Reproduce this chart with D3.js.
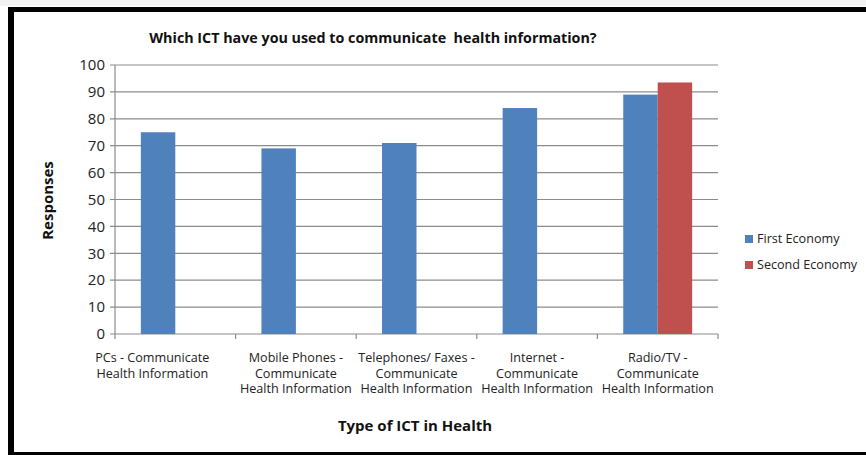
<!DOCTYPE html>
<html>
<head>
<meta charset="utf-8">
<script src="https://cdn.jsdelivr.net/npm/d3@7"></script>
<style>
  body { margin: 0; background: #fff; }
  svg { display: block; font-family: "Open Sans", "DejaVu Sans", sans-serif; }
</style>
</head>
<body>
<svg id="chart" width="866" height="455"></svg>
<script>
const categories = [
    ["PCs - Communicate", "Health Information"],
    ["Mobile Phones -", "Communicate", "Health Information"],
    ["Telephones/ Faxes -", "Communicate", "Health Information"],
    ["Internet -", "Communicate", "Health Information"],
    ["Radio/TV -", "Communicate", "Health Information"],
];
const firstEconomy = [75, 69, 71, 84, 89];
const secondEconomy = [null, null, null, null, 93.5];
const seriesNames = ["First Economy", "Second Economy"];
const seriesColors = ["#4f81bd", "#c0504d"];
const yTicks = [0, 10, 20, 30, 40, 50, 60, 70, 80, 90, 100];

const svg = d3.select("svg");
const width = 866;
const height = 455;
const margin = { top: 65, right: 148, bottom: 121, left: 115 };

// frame like the screenshot
svg.append("rect").attr("x", 0).attr("y", 0).attr("width", width).attr("height", height).attr("fill", "#fff");
svg.append("rect").attr("x", 0).attr("y", 0).attr("width", width).attr("height", 6).attr("fill", "#f2f2f2");
svg.append("rect").attr("x", 8).attr("y", 7).attr("width", width - 8).attr("height", 5).attr("fill", "#000");
svg.append("rect").attr("x", 8).attr("y", 7).attr("width", 6).attr("height", height - 7).attr("fill", "#000");
svg.append("rect").attr("x", 8).attr("y", 452).attr("width", width - 8).attr("height", 3).attr("fill", "#000");

const x = d3
    .scaleBand()
    .domain(d3.range(categories.length))
    .range([margin.left, width - margin.right])
    .paddingInner(0)
    .paddingOuter(0);

const y = d3.scaleLinear().domain([0, 100]).range([height - margin.bottom, margin.top]);

// bars sit in the middle of each category, gap 150% like excel
const groupW = x.bandwidth() * 2 / 3.5;
const xs = d3.scaleBand().domain([0, 1]).range([0, groupW]);

const g = svg.append("g");

// gridlines
g.selectAll("line.grid")
    .data(yTicks)
    .enter()
    .append("line")
    .attr("class", "grid")
    .attr("x1", margin.left - 5)
    .attr("x2", width - margin.right)
    .attr("y1", (d) => y(d))
    .attr("y2", (d) => y(d))
    .attr("stroke", "#8c8c8c")
    .attr("stroke-width", 1.2);

// y axis line
g.append("line")
    .attr("x1", margin.left)
    .attr("x2", margin.left)
    .attr("y1", y(100))
    .attr("y2", y(0))
    .attr("stroke", "#8c8c8c")
    .attr("stroke-width", 1.2);

// category tick marks
g.selectAll("line.ctick")
    .data(d3.range(categories.length + 1))
    .enter()
    .append("line")
    .attr("class", "ctick")
    .attr("x1", (d) => margin.left + d * x.step())
    .attr("x2", (d) => margin.left + d * x.step())
    .attr("y1", y(0))
    .attr("y2", y(0) + 5)
    .attr("stroke", "#8c8c8c")
    .attr("stroke-width", 1.2);

// y tick labels
g.selectAll("text.ytick")
    .data(yTicks)
    .enter()
    .append("text")
    .attr("class", "ytick")
    .attr("x", margin.left - 10)
    .attr("y", (d) => y(d))
    .attr("dy", "0.35em")
    .attr("text-anchor", "end")
    .attr("font-size", 15)
    .attr("fill", "#222")
    .text((d) => d);

const series = [firstEconomy, secondEconomy];
series.forEach((vals, si) => {
    g.selectAll("rect.s" + si)
        .data(vals.map((v, i) => ({ v: v, i: i })).filter((d) => d.v != null))
        .enter()
        .append("rect")
        .attr("class", "s" + si)
        .attr("x", (d) => x(d.i) + (x.bandwidth() - groupW) / 2 + xs(si))
        .attr("width", xs.bandwidth())
        .attr("y", (d) => y(d.v))
        .attr("height", (d) => y(0) - y(d.v))
        .attr("fill", seriesColors[si]);
});

// category labels (first one sits a bit left, like excel did it)
const labelX = (i) => x(i) + x.bandwidth() / 2 - (i === 0 ? 23 : 0);

const catLabels = g
    .selectAll("text.cat")
    .data(categories)
    .enter()
    .append("text")
    .attr("class", "cat")
    .attr("y", 362)
    .attr("text-anchor", "middle")
    .attr("font-size", 12.6)
    .attr("fill", "#222");

catLabels
    .selectAll("tspan")
    .data((d, i) => d.map((line) => ({ line: line, i: i })))
    .enter()
    .append("tspan")
    .attr("x", (d) => labelX(d.i))
    .attr("dy", (d, j) => (j === 0 ? 0 : 15.5))
    .text((d) => d.line);

// titles
svg.append("text")
    .attr("x", 373)
    .attr("y", 43)
    .attr("text-anchor", "middle")
    .attr("font-size", 14.3)
    .attr("font-weight", "bold")
    .attr("fill", "#111")
    .style("white-space", "pre")
    .text("Which ICT have you used to communicate  health information?");

svg.append("text")
    .attr("x", 415)
    .attr("y", 431)
    .attr("text-anchor", "middle")
    .attr("font-size", 15)
    .attr("font-weight", "bold")
    .attr("fill", "#111")
    .text("Type of ICT in Health");

svg.append("text")
    .attr("transform", "translate(53," + (y(50) + 1) + ") rotate(-90)")
    .attr("text-anchor", "middle")
    .attr("font-size", 15)
    .attr("font-weight", "bold")
    .attr("fill", "#111")
    .text("Responses");

// legend
const legend = svg
    .selectAll("g.legend")
    .data(seriesNames)
    .enter()
    .append("g")
    .attr("class", "legend")
    .attr("transform", (d, i) => "translate(745," + (235 + i * 26) + ")");

legend
    .append("rect")
    .attr("width", 8)
    .attr("height", 8)
    .attr("fill", (d, i) => seriesColors[i]);

legend
    .append("text")
    .attr("x", 12)
    .attr("y", 4)
    .attr("dy", "0.35em")
    .attr("font-size", 12.6)
    .attr("fill", "#222")
    .text((d) => d);
</script>
</body>
</html>
